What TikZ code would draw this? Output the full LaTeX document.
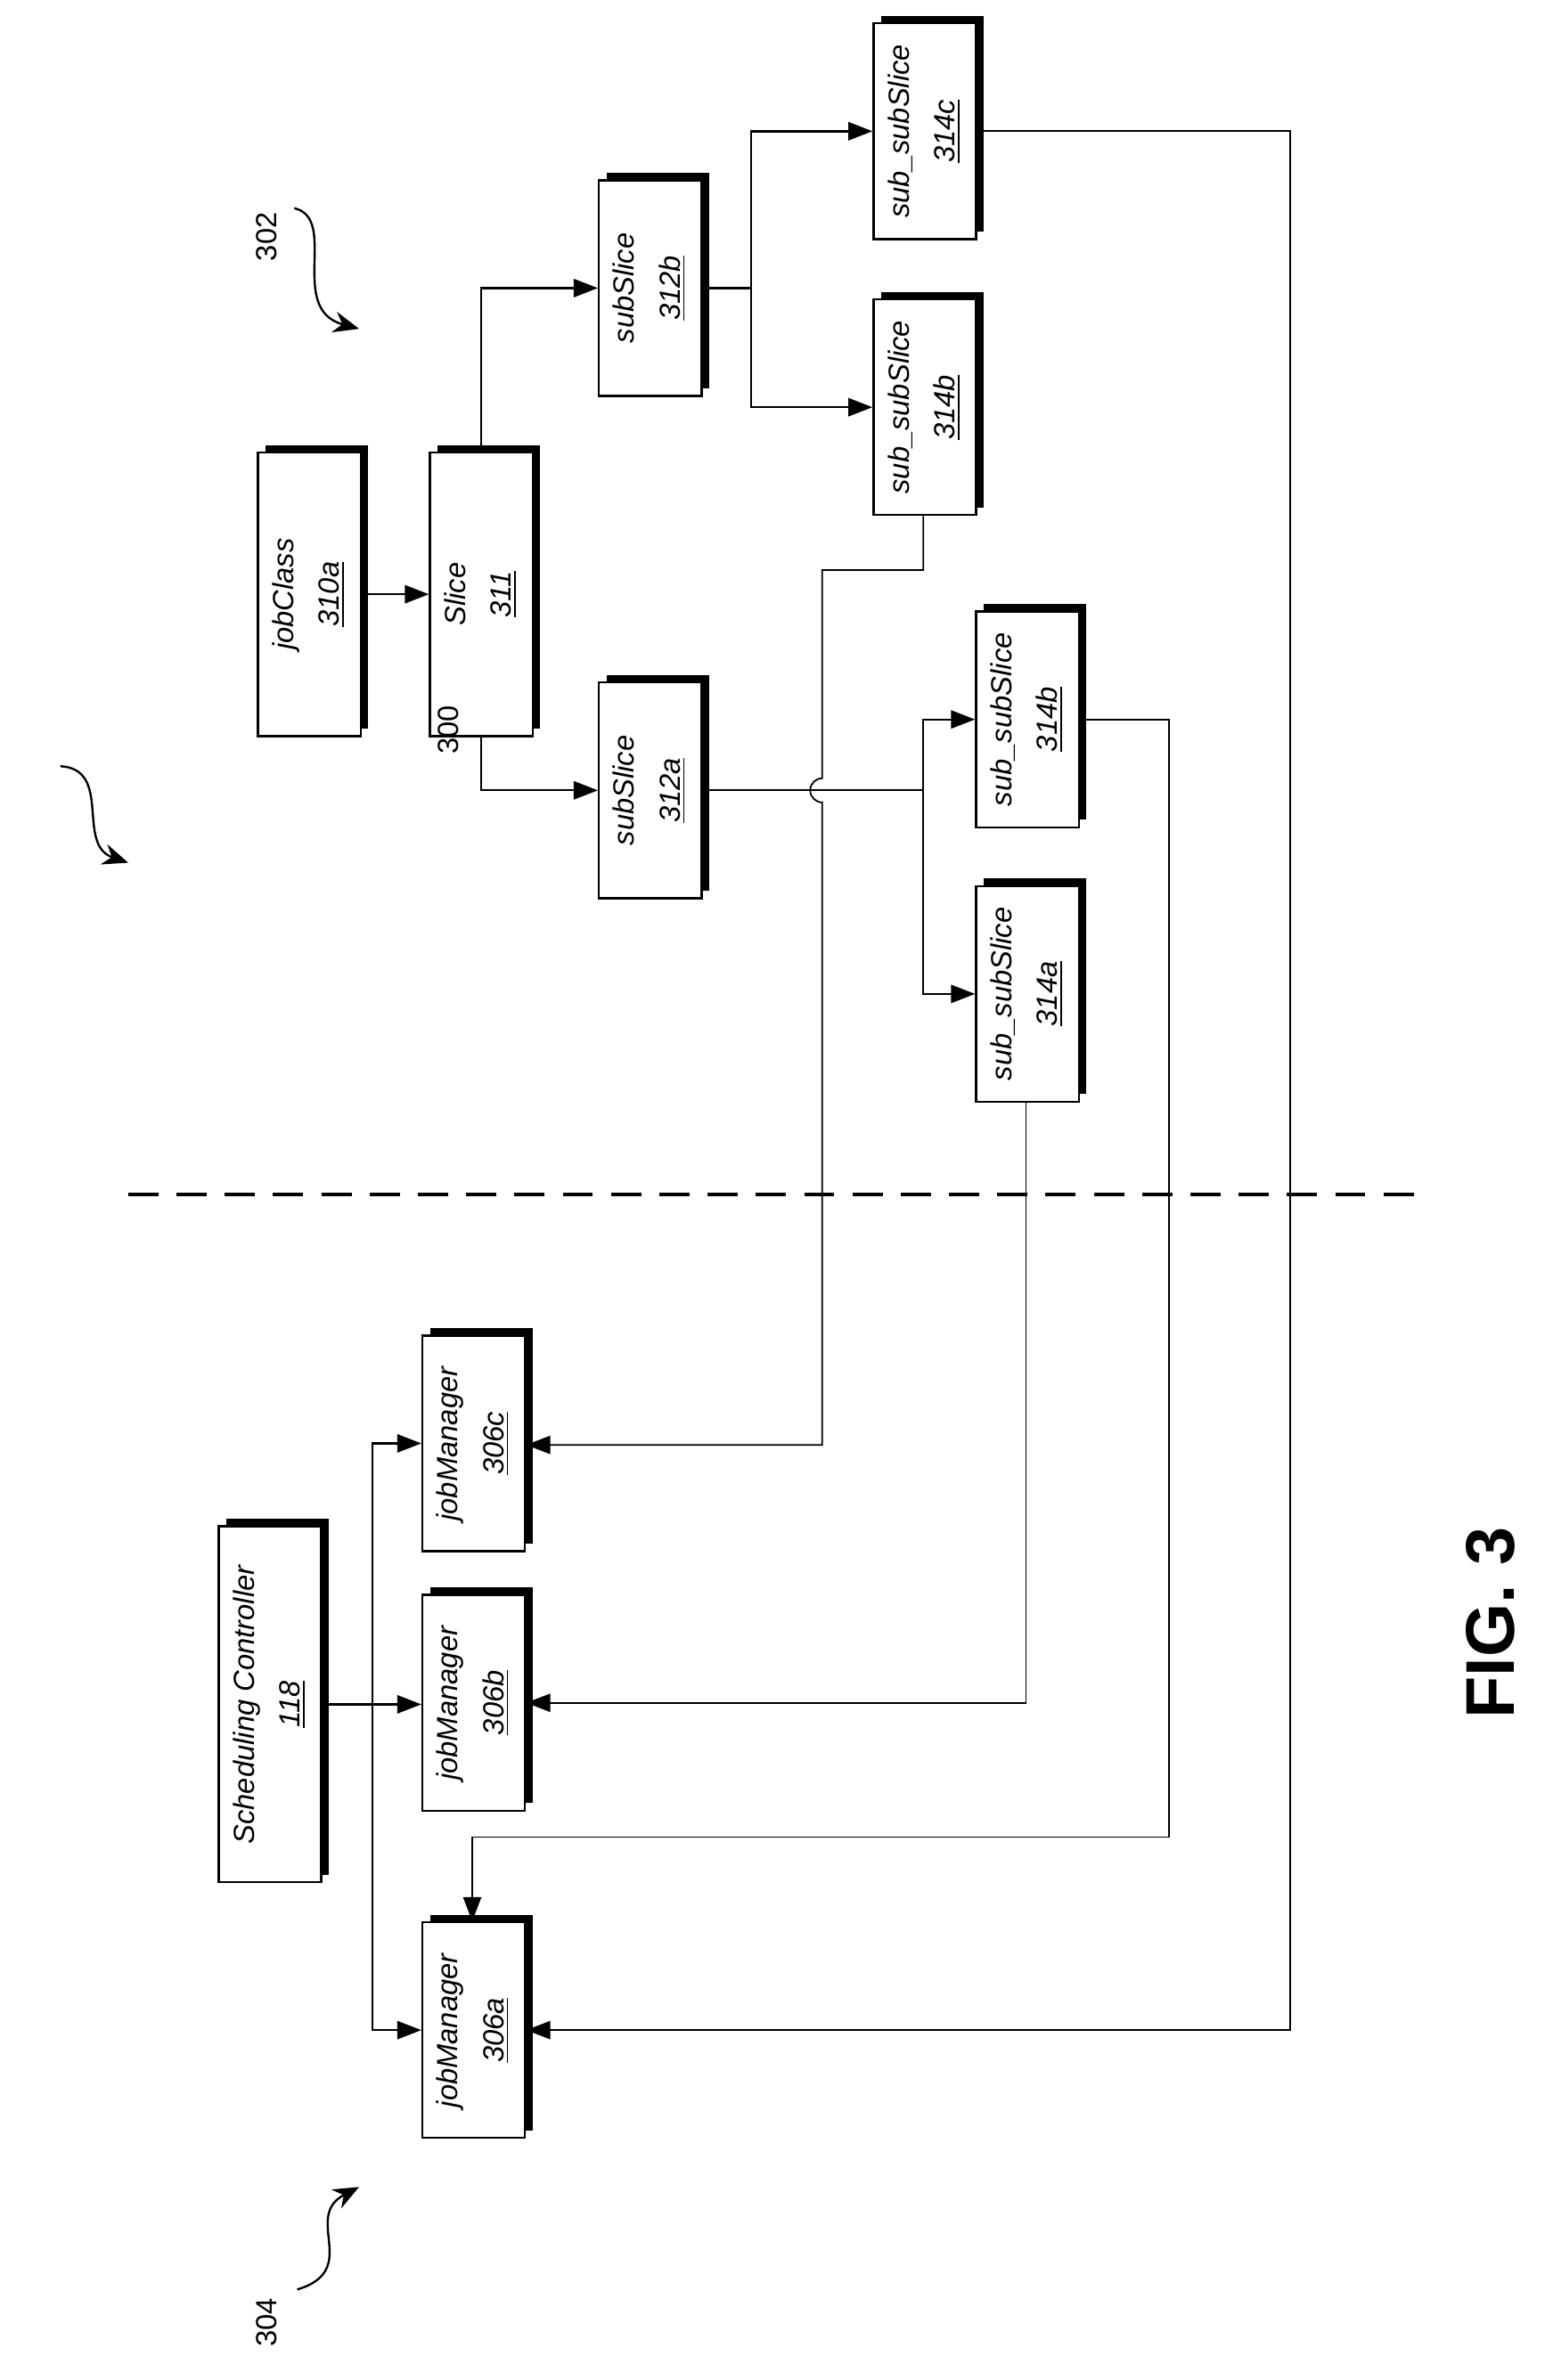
\documentclass[tikz,border=0pt]{standalone}
\usepackage{fontspec}
\setmainfont{Liberation Sans}
\usetikzlibrary{arrows.meta, shadows}
\tikzstyle{arrow} = [-{Triangle[length=3.2mm,width=2.4mm]}, thick]
\tikzstyle{tarrow} = [-{Triangle[length=3.2mm,width=2.4mm]}, semithick]
\tikzstyle{mBox}=[rectangle, draw=black, thick, fill=white, minimum width=13.6mm, minimum height=28.6mm, inner sep=0pt,
  drop shadow={shadow xshift=1mm, shadow yshift=1mm, fill=black, opacity=1}]
\newcommand{\boxtext}[2]{\rotatebox{90}{\begin{tabular}{@{}c@{}}\textit{#1}\\[1.5mm]\underline{\textit{#2}}\end{tabular}}}

\begin{document}
\begin{tikzpicture}[x=0.2mm, y=-0.2mm, every node/.style={font=\fontsize{11}{13}\selectfont}]
        \useasboundingbox (0,0) rectangle (1024,1578);

        \node[mBox, minimum height=37.6mm] (jc) at (205,394) {\boxtext{jobClass}{310a}};
        \node[mBox, minimum height=37.6mm] (sl) at (319,394) {\boxtext{Slice}{311}};
        \node[mBox] (sb) at (431,191) {\boxtext{subSlice}{312b}};
        \node[mBox] (sa) at (431,524) {\boxtext{subSlice}{312a}};
        \node[mBox] (ssc) at (613,87) {\boxtext{sub\_subSlice}{314c}};
        \node[mBox] (ssb) at (613,270) {\boxtext{sub\_subSlice}{314b}};
        \node[mBox] (ssb2) at (681,477) {\boxtext{sub\_subSlice}{314b}};
        \node[mBox] (ssa) at (681,659) {\boxtext{sub\_subSlice}{314a}};

        \node[mBox, minimum height=47.2mm] (sc) at (179,1130) {\boxtext{Scheduling Controller}{118}};
        \node[mBox] (jmc) at (314,957) {\boxtext{jobManager}{306c}};
        \node[mBox] (jmb) at (314,1129) {\boxtext{jobManager}{306b}};
        \node[mBox] (jma) at (314,1346) {\boxtext{jobManager}{306a}};

        % slice tree
        \draw[arrow] (jc) -- (sl);
        \draw[arrow] (sl.north) |- (sb.west);
        \draw[arrow] (sl.south) |- (sa.west);
        \coordinate (jb) at (498,191);
        \draw[thick] (sb.east) -- (jb);
        \draw[arrow] (jb) |- (ssc.west);
        \draw[arrow] (jb) |- (ssb.west);
        \coordinate (ja) at (612,524);
        \draw[thick] (sa.east) -- (ja);
        \draw[arrow] (ja) |- (ssb2.west);
        \draw[arrow] (ja) |- (ssa.west);

        % feeds back to the job managers
        \coordinate (hc) at (545,378);
        \draw[tarrow] (ssb.south -| 612,0) |- (hc) -- (545,516) arc[start angle=-90, end angle=-270, radius=8] -- (545,958) -- (jmc.east |- 0,958);
        \draw[tarrow] (ssa.south -| 680,0) |- (jmb.east);
        \coordinate (hb) at (775,1218);
        \draw[tarrow] (ssb2.east) -| (hb) -| (jma.north -| 313,0);
        \coordinate (ha) at (855,1346);
        \draw[tarrow] (ssc.east) -| (ha) -- (jma.east);

        % controller
        \coordinate (jm) at (247,1130);
        \draw[thick] (sc.east |- jm) -- (jm);
        \draw[arrow] (jm) -- (jmb.west |- jm);
        \draw[arrow] (jm) |- (jmc.west);
        \draw[arrow] (jm) |- (jma.west);

        \draw[line width=1.3pt, dash pattern=on 4mm off 2.4mm] (85,792) -- (945,792);

        % reference numerals
        \node[rotate=90] (n300) at (297,484) {300};
        \node[rotate=90] (n302) at (177,157) {302};
        \node[rotate=90] (n304) at (177,1540) {304};
        \draw[thick, -{Stealth[length=3.4mm,width=2.8mm]}] (40,508) .. controls (75,510) and (50,560) .. (85,572);
        \draw[thick, -{Stealth[length=3.4mm,width=2.8mm]}] (195,138) .. controls (225,145) and (190,205) .. (238,218);
        \draw[thick, -{Stealth[length=3.4mm,width=2.8mm]}] (197,1518) .. controls (240,1505) and (200,1470) .. (238,1450);

        \node[rotate=90, font=\bfseries\fontsize{26}{30}\selectfont] (fig) at (988,1076) {FIG. 3};
\end{tikzpicture}
\end{document}
